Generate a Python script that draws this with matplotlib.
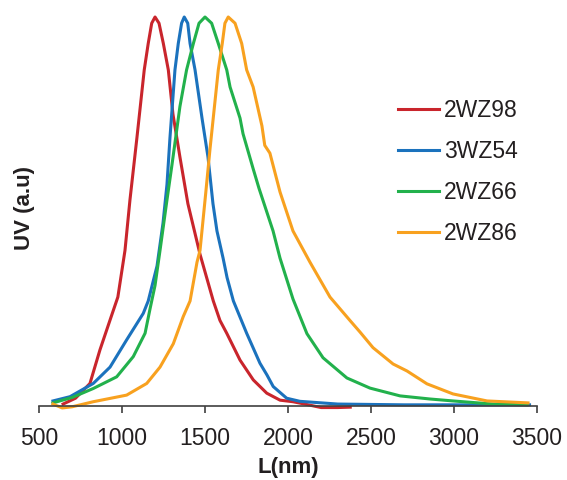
import numpy as np
import matplotlib
matplotlib.use("Agg")
import matplotlib.pyplot as plt

plt.rcParams['font.family'] = ['Liberation Sans', 'DejaVu Sans']

# 数据 (读图估计, 归一化强度)
names = ["2WZ98", "3WZ54", "2WZ66", "2WZ86"]
colors = ["#C9252C", "#1B72BD", "#22B14C", "#F8A11F"]

x_2wz98 = [645, 720, 807, 867, 928, 975, 1018, 1048, 1090, 1134, 1158, 1179, 1199,
           1223, 1249, 1279, 1307, 1349, 1397, 1470, 1550, 1590, 1631, 1711, 1791,
           1872, 1952, 2030, 2100, 2200, 2300, 2375]
y_2wz98 = [0.005, 0.02, 0.058, 0.144, 0.221, 0.28, 0.40, 0.53, 0.69, 0.864, 0.932, 0.984, 1.0,
           0.984, 0.932, 0.864, 0.75, 0.64, 0.52, 0.39, 0.27, 0.22, 0.187, 0.118, 0.067,
           0.033, 0.015, 0.011, 0.005, -0.004, -0.004, -0.003]

x_3wz54 = [584, 687, 827, 928, 1028, 1128, 1158, 1211, 1247, 1271, 1289, 1319, 1339,
           1359, 1375, 1396, 1410, 1440, 1482, 1518, 1548, 1572, 1609, 1633, 1671,
           1751, 1831, 1873, 1911, 1992, 2072, 2300, 2700, 3100, 3455]
y_3wz54 = [0.013, 0.024, 0.058, 0.10, 0.17, 0.238, 0.27, 0.36, 0.47, 0.57, 0.69, 0.864, 0.932,
           0.984, 1.0, 0.984, 0.932, 0.864, 0.74, 0.64, 0.52, 0.45, 0.38, 0.33, 0.27,
           0.187, 0.11, 0.08, 0.05, 0.02, 0.012, 0.005, 0.003, 0.003, 0.003]

x_2wz66 = [584, 700, 827, 968, 1068, 1139, 1169, 1199, 1229, 1271, 1301, 1349, 1389,
           1430, 1464, 1500, 1540, 1580, 1631, 1651, 1711, 1729, 1790, 1825, 1910,
           1952, 2030, 2114, 2211, 2355, 2494, 2675, 2855, 2994, 3235, 3440]
y_2wz66 = [0.008, 0.022, 0.045, 0.075, 0.127, 0.187, 0.25, 0.31, 0.40, 0.53, 0.62, 0.77, 0.864,
           0.932, 0.984, 1.0, 0.984, 0.932, 0.864, 0.82, 0.74, 0.70, 0.61, 0.56, 0.45,
           0.38, 0.275, 0.186, 0.124, 0.072, 0.046, 0.026, 0.018, 0.013, 0.005, 0.003]

x_2wz86 = [584, 640, 700, 827, 1028, 1149, 1229, 1309, 1369, 1410, 1452, 1470, 1505,
           1530, 1580, 1604, 1620, 1640, 1681, 1721, 1751, 1790, 1843, 1860, 1891,
           1952, 2030, 2132, 2253, 2373, 2434, 2512, 2633, 2717, 2837, 2994, 3199, 3446]
y_2wz86 = [0.005, -0.005, -0.002, 0.011, 0.028, 0.058, 0.10, 0.16, 0.23, 0.27, 0.37, 0.40, 0.55,
           0.66, 0.864, 0.932, 0.984, 1.0, 0.984, 0.932, 0.864, 0.82, 0.72, 0.67, 0.65,
           0.55, 0.45, 0.37, 0.28, 0.22, 0.19, 0.15, 0.108, 0.09, 0.057, 0.031, 0.013, 0.008]

xs = [x_2wz98, x_3wz54, x_2wz66, x_2wz86]
ys = [y_2wz98, y_3wz54, y_2wz66, y_2wz86]

fig = plt.figure(figsize=(5.67, 4.80), dpi=100)
ax = fig.add_axes([39/567, 1-406/480, 498/567, 396/480])

for xv, yv, c, n in zip(xs, ys, colors, names):
    ax.plot(xv, yv, color=c, lw=2.2, label=n, clip_on=False, solid_joinstyle="round")

ax.set_xlim(500, 3500)
ax.set_ylim(0, 396/389)
ax.set_xticks(np.arange(500, 3501, 500))
ax.set_yticks([])
for s in ["left", "top", "right"]:
    ax.spines[s].set_visible(False)
ax.spines["bottom"].set_color("#404040")
ax.spines["bottom"].set_linewidth(1.2)
ax.tick_params(axis="x", direction="out", length=5, width=1.2, color="#404040",
               labelsize=16.5, labelcolor="#231F20", pad=10)

ax.set_xlabel("L(nm)", fontsize=16, fontweight="bold", color="#231F20", labelpad=5)
ax.set_ylabel("UV (a.u)", fontsize=16, fontweight="bold", color="#231F20", labelpad=3)

leg = ax.legend(loc="center left", bbox_to_anchor=(398/567, 1-172/480),
                bbox_transform=fig.transFigure, frameon=False, fontsize=16.5,
                handlelength=1.8, handletextpad=0.2, labelspacing=0.78,
                borderpad=0, borderaxespad=0)
for t in leg.get_texts():
    t.set_color("#231F20")
for l in leg.get_lines():
    l.set_linewidth(2.2)

fig.savefig("out.png", dpi=100)
